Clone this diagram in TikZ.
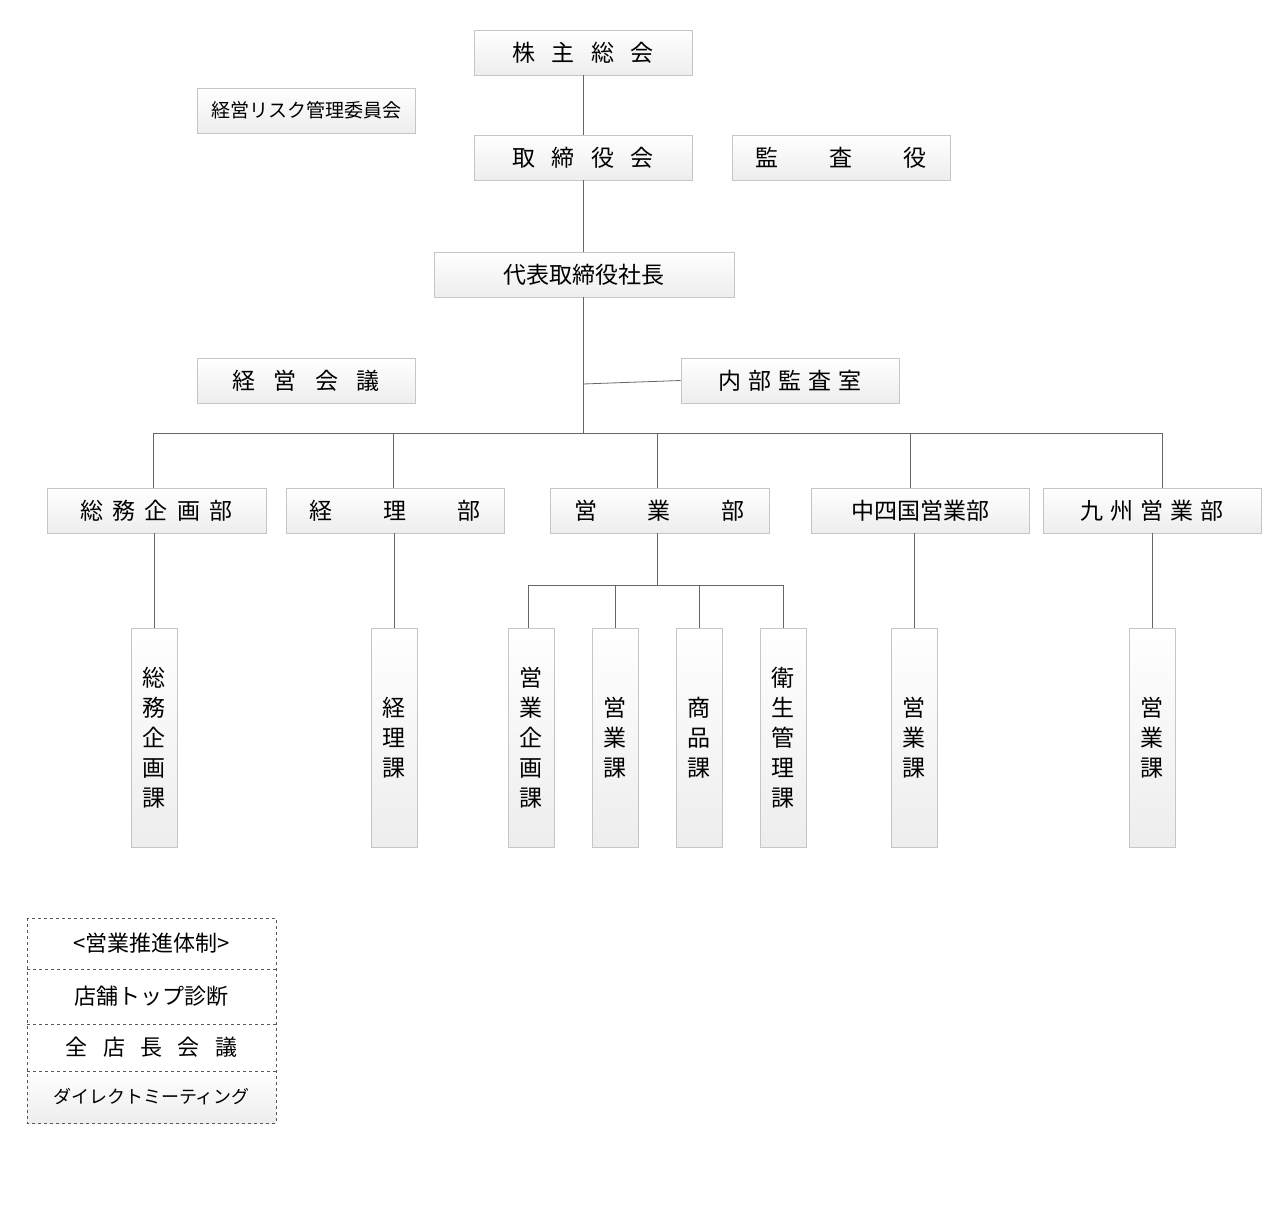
\documentclass[tikz,border=0pt]{standalone}
\usepackage{fontspec}
\newfontfamily\jp{Noto Sans CJK JP}
\begin{document}
\begin{tikzpicture}[x=1pt,y=-1pt,
 bx/.style={draw=gray!45,line width=0.8pt,top color=white,bottom color=gray!14,inner sep=0pt,font=\jp\fontsize{23}{23}\selectfont},
 hb/.style={bx,minimum width=218pt,minimum height=45pt},
 vb/.style={bx,minimum width=46pt,minimum height=219pt,align=center,font=\jp\fontsize{23}{30}\selectfont},
 ln/.style={draw=gray!80!black,line width=0.8pt}]
\useasboundingbox (0,0) rectangle (1280,1228);
\node[hb] (kabu) at (583,52.5) {株\hspace{0.7em}主\hspace{0.7em}総\hspace{0.7em}会};
\node[hb,font=\jp\fontsize{19}{19}\selectfont] (risk) at (306,110.5) {経営リスク管理委員会};
\node[hb] (tori) at (583,157.5) {取\hspace{0.7em}締\hspace{0.7em}役\hspace{0.7em}会};
\node[hb] (kan) at (841,157.5) {監\hspace{2.2em}査\hspace{2.2em}役};
\node[hb,minimum width=300pt] (pres) at (584,274.5) {代表取締役社長};
\node[hb] (keiei) at (306,380.5) {経\hspace{0.8em}営\hspace{0.8em}会\hspace{0.8em}議};
\node[hb] (naibu) at (790,380.5) {内\hspace{0.3em}部\hspace{0.3em}監\hspace{0.3em}査\hspace{0.3em}室};
\node[hb,minimum width=219pt] (d1) at (156.5,510.5) {総\hspace{0.4em}務\hspace{0.4em}企\hspace{0.4em}画\hspace{0.4em}部};
\node[hb] (d2) at (395,510.5) {経\hspace{2.2em}理\hspace{2.2em}部};
\node[hb,minimum width=219pt] (d3) at (659.5,510.5) {営\hspace{2.2em}業\hspace{2.2em}部};
\node[hb] (d4) at (920,510.5) {中四国営業部};
\node[hb] (d5) at (1152,510.5) {九\hspace{0.3em}州\hspace{0.3em}営\hspace{0.3em}業\hspace{0.3em}部};
\node[vb] (s1) at (154,737.5) {総\\務\\企\\画\\課};
\node[vb] (s2) at (394,737.5) {経\\理\\課};
\node[vb] (s3) at (531,737.5) {営\\業\\企\\画\\課};
\node[vb] (s4) at (615,737.5) {営\\業\\課};
\node[vb] (s5) at (699,737.5) {商\\品\\課};
\node[vb] (s6) at (783,737.5) {衛\\生\\管\\理\\課};
\node[vb] (s7) at (914,737.5) {営\\業\\課};
\node[vb] (s8) at (1152,737.5) {営\\業\\課};
% connectors
\coordinate (bus) at (583,433);
\draw[ln] (kabu.south) -- (tori.north);
\draw[ln] (tori.south) -- (pres.north -| tori.south);
\draw[ln] (pres.south -| tori.south) -- (bus);
\draw[ln] (583,384) -- (naibu.west);
\draw[ln] (153,433) -- (1162,433);
\foreach \d/\x in {d1/153,d2/393,d3/657,d4/910,d5/1162} \draw[ln] (\x,433) -- (\d.north -| \x,0);
\draw[ln] (d1.south -| s1) -- (s1.north);
\draw[ln] (d2.south -| s2) -- (s2.north);
\draw[ln] (d4.south -| s7) -- (s7.north);
\draw[ln] (d5.south -| s8) -- (s8.north);
\draw[ln] (d3.south -| 657,0) -- (657,585);
\draw[ln] (528,585) -- (783,585);
\foreach \s/\x in {s3/528,s4/615,s5/699,s6/783} \draw[ln] (\x,585) -- (\s.north -| \x,0);
% legend
\node[minimum width=249pt,minimum height=51pt,inner sep=0pt,font=\jp\fontsize{22}{22}\selectfont] (l1) at (151.5,943.5) {<営業推進体制>};
\node[minimum width=249pt,minimum height=55pt,inner sep=0pt,font=\jp\fontsize{22}{22}\selectfont] (l2) at (151.5,996.5) {店舗トップ診断};
\node[minimum width=249pt,minimum height=47pt,inner sep=0pt,font=\jp\fontsize{22}{22}\selectfont] (l3) at (151.5,1047.5) {全\hspace{0.7em}店\hspace{0.7em}長\hspace{0.7em}会\hspace{0.7em}議};
\node[minimum width=249pt,minimum height=52pt,inner sep=0pt,top color=white,bottom color=gray!14,font=\jp\fontsize{18}{18}\selectfont] (l4) at (151.5,1097) {ダイレクトミーティング};
\draw[dashed,draw=gray!70!black,line width=0.9pt] (27,918) rectangle (276,1123);
\foreach \y in {969,1024,1071} \draw[dashed,draw=gray!70!black,line width=0.9pt] (27,\y) -- (276,\y);
\end{tikzpicture}
\end{document}
